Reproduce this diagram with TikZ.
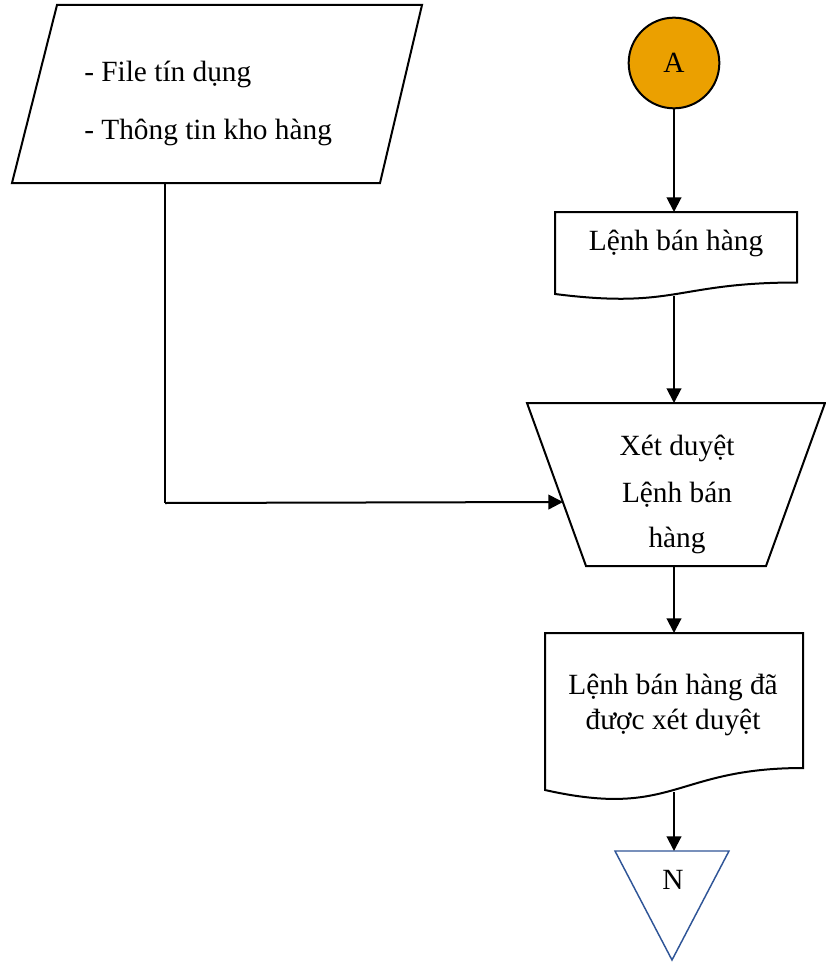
\documentclass[tikz,border=0pt]{standalone}
\usepackage{fontspec}
\setmainfont{Liberation Serif}
\usetikzlibrary{arrows.meta}
\definecolor{connorange}{HTML}{EBA000}
\definecolor{offblue}{HTML}{2F5597}
\begin{document}
\begin{tikzpicture}[x=0.75pt,y=-0.75pt,
  shapeline/.style={draw=black, line width=1.5pt, line join=miter},
  flow/.style={draw=black, line width=1.5pt, -{Triangle[length=11pt,width=11pt]}},
  thinline/.style={draw=black, line width=0.8pt},
  txt/.style={font=\fontsize{22}{22}\selectfont, inner sep=0pt, anchor=base},
]
\useasboundingbox (0,0) rectangle (825,963);

% input data (parallelogram)
\draw[shapeline] (57,5) -- (422,5) -- (380,183) -- (12,183) -- cycle;
\node[txt, anchor=base west] (in1) at (84,82) {- File tín dụng};
\node[txt, anchor=base west] (in2) at (84,140) {- Thông tin kho hàng};
\coordinate (inout) at (165,183);
\coordinate (bend) at (165,503);

% off-page connector A
\node[circle, draw=black, line width=1.5pt, fill=connorange, minimum size=68pt, inner sep=0pt,
      font=\fontsize{22}{22}\selectfont] (A) at (674,63) {A};

% document: Lệnh bán hàng
\draw[shapeline] (555,212) -- (797,212) -- (797,282.5)
  .. controls (676,282.5) and (676,309.4) .. (555,294) -- cycle;
\node[txt] (doc1) at (676,250) {Lệnh bán hàng};
\coordinate (doc1top) at (674,212);
\coordinate (doc1bot) at (674,296);

% manual operation (trapezoid)
\draw[shapeline] (527,403) -- (825,403) -- (766,566) -- (586,566) -- cycle;
\node[txt] (tr1) at (677,455) {Xét duyệt};
\node[txt] (tr2) at (677,502) {Lệnh bán};
\node[txt] (tr3) at (677,547) {hàng};
\coordinate (trtop) at (674,403);
\coordinate (trbot) at (674,566);
\coordinate (trleft) at (563,502);

% document: approved order
\draw[shapeline] (545,633) -- (803,633) -- (803,768)
  .. controls (674,768) and (674,819) .. (545,790) -- cycle;
\node[txt] (doc2a) at (673,694) {Lệnh bán hàng đã};
\node[txt] (doc2b) at (673,729) {được xét duyệt};
\coordinate (doc2top) at (674,633);
\coordinate (doc2bot) at (674,792);

% off-page reference N (triangle)
\draw[draw=offblue, line width=1.1pt, line join=miter] (615,851) -- (729,851) -- (672,960) -- cycle;
\node[txt] (N) at (673,889) {N};
\coordinate (Ntop) at (674,851);

% connectors
\draw[flow] (A.south) -- (doc1top);
\draw[flow] (doc1bot) -- (trtop);
\draw[flow] (trbot) -- (doc2top);
\draw[flow] (doc2bot) -- (Ntop);
\draw[thinline] (inout) -- (bend);
\draw[flow] (bend) -- (trleft);
\end{tikzpicture}
\end{document}
